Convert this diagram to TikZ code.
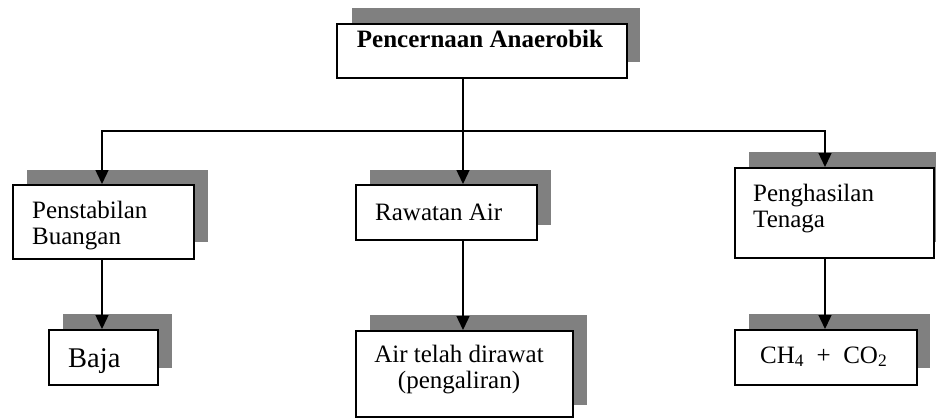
\documentclass[tikz,border=0pt]{standalone}
\usepackage{fontspec}
\setmainfont{Liberation Serif}
\usetikzlibrary{arrows.meta}
\definecolor{shade}{HTML}{808080}
\tikzset{
  box/.style={draw=black, line width=1.5pt, fill=white, inner sep=0pt, anchor=north west},
  shadowbox/.style={fill=shade, draw=none},
  lbl/.style={inner sep=0pt, anchor=base west, align=left, font=\fontsize{25}{26}\selectfont},
  conn/.style={line width=1.4pt},
  arr/.style={conn, -{Triangle[length=14pt,width=13pt]}},
}
\begin{document}
\begin{tikzpicture}[x=1pt,y=-1pt]
\useasboundingbox (0,0) rectangle (936,418);
% shadows
\fill[shadowbox] (352,8) rectangle (640,62);
\fill[shadowbox] (27,170) rectangle (208,242);
\fill[shadowbox] (370,170) rectangle (551,225);
\fill[shadowbox] (749,152) rectangle (936,242);
\fill[shadowbox] (63,314) rectangle (172,368);
\fill[shadowbox] (370,315) rectangle (587,405);
\fill[shadowbox] (749,314) rectangle (930,368);
% boxes
\node[box, minimum width=290pt, minimum height=54pt] (top) at (336,23) {};
\node[box, minimum width=181pt, minimum height=74pt] (pen) at (12,184) {};
\node[box, minimum width=181pt, minimum height=55pt] (raw) at (355,184) {};
\node[box, minimum width=199pt, minimum height=90pt] (ten) at (734,167) {};
\node[box, minimum width=109pt, minimum height=55pt] (baja) at (48,329) {};
\node[box, minimum width=217pt, minimum height=86pt] (air) at (355,330) {};
\node[box, minimum width=182pt, minimum height=55pt] (gas) at (734,329) {};
% texts
\node[lbl, anchor=base, font=\bfseries\fontsize{25}{26}\selectfont] (ttl) at (480,47) {Pencernaan Anaerobik};
\node[lbl] (tpen) at (32,244) {Penstabilan\\Buangan};
\node[lbl] (traw) at (375,220) {Rawatan Air};
\node[lbl] (tten) at (753,227) {Penghasilan\\Tenaga};
\node[lbl, font=\fontsize{28.5}{32}\selectfont] (tbaja) at (68,367) {Baja};
\node[lbl, align=center, anchor=base] (tair) at (459,388) {Air telah dirawat\\(pengaliran)};
\node[lbl] (tgas) at (760,363) {CH\textsubscript{4}\ \ +\ \ CO\textsubscript{2}};
% connectors
\coordinate (busM) at (463,131);
\coordinate (busL) at (102,131);
\coordinate (busR) at (825,131);
\draw[conn] (top.south -| busM) -- (busM);
\draw[arr] (busM) -- (busL) -- (busL |- pen.north);
\draw[arr] (busM) -- (busR) -- (busR |- ten.north);
\draw[arr] (busM) -- (busM |- raw.north);
\draw[arr] (busL |- pen.south) -- (busL |- baja.north);
\draw[arr] (busM |- raw.south) -- (busM |- air.north);
\draw[arr] (busR |- ten.south) -- (busR |- gas.north);
\end{tikzpicture}
\end{document}
